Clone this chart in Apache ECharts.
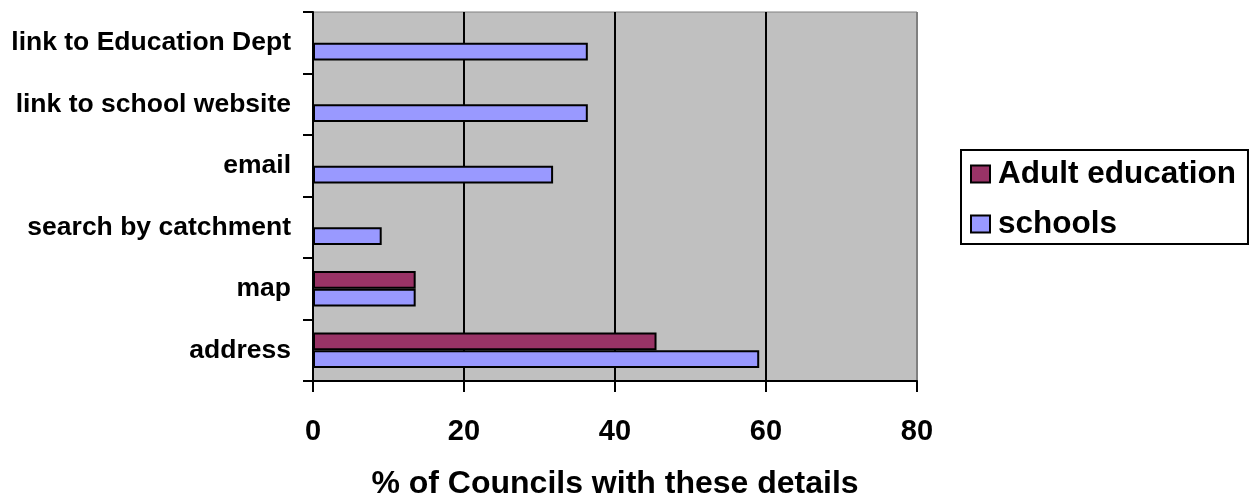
<!DOCTYPE html>
<html>
<head>
<meta charset="utf-8">
<script src="https://cdn.jsdelivr.net/npm/echarts@6/dist/echarts.min.js"></script>
<style>
  html, body { margin: 0; padding: 0; background: #fff; }
  #chart { width: 1250px; height: 497px; }
</style>
</head>
<body>
<div id="chart"></div>
<script>
var categories = ['address', 'map', 'search by catchment', 'email', 'link to school website', 'link to Education Dept']
var schools = [59.1, 13.6, 9.1, 31.8, 36.4, 36.4]
var adultEducation = [45.5, 13.6, null, null, null, null]
var xTicks = [0, 20, 40, 60, 80]

var myChart = echarts.init(document.getElementById('chart'))
var font = 'Liberation Sans, Arial, sans-serif'

myChart.setOption({
  animation: false,
  textStyle: { fontFamily: font },
  grid: {
    left: 313,
    right: 333,
    top: 12,
    bottom: 116,
    outerBoundsMode: 'none',
    containLabel: false,
    show: true,
    backgroundColor: '#C0C0C0',
    borderColor: '#808080',
    borderWidth: 1
  },
  legend: {
    data: ['Adult education', 'schools'],
    orient: 'vertical',
    left: 961,
    top: 150,
    padding: [8, 12, 4, 9],
    itemWidth: 19,
    itemHeight: 17,
    itemGap: 18,
    borderColor: '#000',
    borderWidth: 2,
    borderRadius: 0,
    icon: 'rect',
    itemStyle: { borderColor: '#000', borderWidth: 2 },
    textStyle: { fontFamily: font, fontWeight: 'bold', fontSize: 31.5, color: '#000', padding: [0, 0, 0, 3] }
  },
  xAxis: {
    type: 'value',
    min: xTicks[0],
    max: xTicks[xTicks.length - 1],
    interval: 20,
    name: '% of Councils with these details',
    nameLocation: 'middle',
    nameGap: 87,
    nameTextStyle: { fontFamily: font, fontWeight: 'bold', fontSize: 32, color: '#000' },
    axisLine: { show: true, lineStyle: { color: '#000', width: 2 } },
    axisTick: { show: true, length: 11, lineStyle: { color: '#000', width: 2 } },
    axisLabel: { color: '#000', fontWeight: 'bold', fontSize: 29, margin: 36, fontFamily: font },
    splitLine: { show: true, lineStyle: { color: ['#000', '#000', '#000', '#000', '#808080'], width: 2 } }
  },
  yAxis: {
    type: 'category',
    data: categories,
    axisLine: { show: true, lineStyle: { color: '#000', width: 2 } },
    axisTick: { show: true, length: 10, lineStyle: { color: '#000', width: 2 } },
    axisLabel: { color: '#000', fontWeight: 'bold', fontSize: 26.5, margin: 22, fontFamily: font },
    splitLine: { show: false }
  },
  series: [
    {
      name: 'Adult education',
      type: 'bar',
      data: adultEducation,
      barGap: '0%',
      barCategoryGap: '42%',
      itemStyle: { color: '#993366', borderColor: '#000', borderWidth: 2 }
    },
    {
      name: 'schools',
      type: 'bar',
      data: schools,
      itemStyle: { color: '#9999FF', borderColor: '#000', borderWidth: 2 }
    }
  ]
})
</script>
</body>
</html>
